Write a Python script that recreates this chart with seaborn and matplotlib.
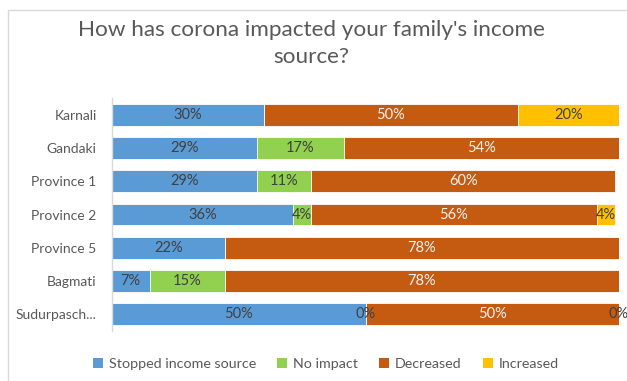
import numpy as np
import pandas as pd
import matplotlib
matplotlib.use("Agg")
import matplotlib.pyplot as plt
from matplotlib.patches import Patch
from matplotlib.lines import Line2D
import seaborn as sns

# Share of respondents per province (percent of row)
regions = ["Karnali", "Gandaki", "Province 1", "Province 2",
           "Province 5", "Bagmati", "Sudurpasch..."]
stopped = [30.0, 28.6, 28.6, 35.7, 22.2, 7.4, 50.0]
no_impact = [np.nan, 17.1, 10.6, 3.6, np.nan, 14.8, 0.0]
decreased = [50.0, 54.3, 60.1, 56.3, 77.8, 77.8, 50.0]
increased = [20.0, np.nan, np.nan, 3.6, np.nan, np.nan, 0.0]

series_names = ["Stopped income source", "No impact", "Decreased", "Increased"]
series_values = [stopped, no_impact, decreased, increased]
colors = ["#5B9BD5", "#92D050", "#C55A11", "#FFC000"]
label_colors = ["#404040", "#404040", "#F2F2F2", "#404040"]

sns.set_theme(style="white")
plt.rcParams["font.family"] = ["Lato", "DejaVu Sans"]

df = pd.DataFrame({"region": regions})
for name, vals in zip(series_names, series_values):
    df[name] = vals
filled = df[series_names].fillna(0.0)
cum = filled.cumsum(axis=1)

fig = plt.figure(figsize=(6.27, 3.81), dpi=100)
ax = fig.add_axes([112 / 627, 1 - 330.6 / 381, (619 - 112) / 627, (330.6 - 98.4) / 381])

# Stacked bars: draw cumulative totals from the outermost segment inward
for i in range(len(series_names) - 1, -1, -1):
    plot_df = pd.DataFrame({"region": regions, "value": cum.iloc[:, i].values})
    sns.barplot(data=plot_df, x="value", y="region", orient="h", order=regions,
                color=colors[i], width=0.66, edgecolor="white", linewidth=0.6,
                saturation=1, ax=ax)

# Segment value labels
for i, name in enumerate(series_names):
    for r, region in enumerate(regions):
        v = df.loc[r, name]
        if pd.isna(v):
            continue
        end = cum.iloc[r, i]
        start = end - filled.iloc[r, i]
        ax.text((start + end) / 2, r, f"{v:.0f}%", ha="center", va="center",
                fontsize=10.5, color=label_colors[i], clip_on=False)

ax.set_xlim(0, 100)
ax.set_xlabel("")
ax.set_ylabel("")
ax.set_xticks([])
ax.tick_params(axis="y", length=0, pad=11, labelsize=10, labelcolor="#595959")
for s in ["top", "right", "bottom"]:
    ax.spines[s].set_visible(False)
ax.spines["left"].set_color("#D9D9D9")
ax.spines["left"].set_linewidth(1.0)

fig.text(311 / 627, 1 - 30 / 381, "How has corona impacted your family's income",
         ha="center", va="center", fontsize=16.2, color="#595959")
fig.text(311 / 627, 1 - 57 / 381, "source?", ha="center", va="center",
         fontsize=16.2, color="#595959")

handles = [Patch(facecolor=c, edgecolor="none") for c in colors]
fig.legend(handles, series_names, loc="center", bbox_to_anchor=(326 / 627, 1 - 364 / 381),
           ncol=4, frameon=False, fontsize=10.3, handlelength=0.7, handleheight=0.7,
           handletextpad=0.4, columnspacing=1.5, labelcolor="#595959")

# Chart area border
fig.add_artist(Line2D([8 / 627, 8 / 627], [0, 1 - 10 / 381], transform=fig.transFigure,
                      color="#D9D9D9", linewidth=1.0))
fig.add_artist(Line2D([8 / 627, 1], [1 - 10 / 381, 1 - 10 / 381], transform=fig.transFigure,
                      color="#D9D9D9", linewidth=1.0))

fig.savefig("out.png", dpi=100)
